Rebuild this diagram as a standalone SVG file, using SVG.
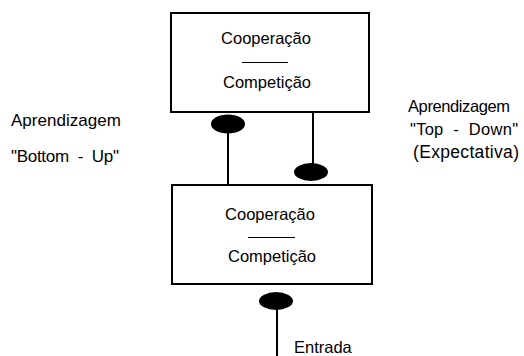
<svg xmlns="http://www.w3.org/2000/svg" width="524" height="356" viewBox="0 0 524 356">
  <style>
    text { font-family: "Liberation Sans", Arial, sans-serif; font-size: 16.5px; fill: #000; }
    .box { fill: #fff; stroke: #000; stroke-width: 2; }
    .rule { stroke: #000; stroke-width: 1; }
    .wire { stroke: #000; stroke-width: 2; fill: none; }
    .dot { fill: #000; }
    .mid { text-anchor: middle; }
    .left { font-size: 17px; }
    .wide { font-size: 17.5px; }
  </style>
  <rect width="524" height="356" fill="#fff"/>

  <g id="connectors">
    <line class="wire" x1="228" y1="128" x2="228" y2="185"/>
    <ellipse class="dot" cx="228" cy="124" rx="17" ry="9.5"/>
    <line class="wire" x1="313" y1="112" x2="313" y2="168"/>
    <ellipse class="dot" cx="311" cy="172" rx="17" ry="9"/>
    <line class="wire" x1="277" y1="301" x2="277" y2="356"/>
    <ellipse class="dot" cx="276" cy="301" rx="17" ry="9"/>
  </g>

  <g id="top-layer">
    <rect class="box" x="171" y="13" width="198" height="99"/>
    <text class="mid" x="266" y="44">Cooperação</text>
    <line class="rule" x1="242" y1="62.5" x2="288" y2="62.5"/>
    <text class="mid" x="267" y="88">Competição</text>
  </g>

  <g id="bottom-layer">
    <rect class="box" x="172" y="185" width="200" height="99"/>
    <text class="mid" x="270" y="220">Cooperação</text>
    <line class="rule" x1="248" y1="237.5" x2="295" y2="237.5"/>
    <text class="mid" x="272" y="262">Competição</text>
  </g>

  <g id="bottom-up-label">
    <text class="left" x="11" y="126" textLength="110">Aprendizagem</text>
    <text class="left" x="11" y="162" textLength="108" xml:space="preserve">"Bottom  -  Up"</text>
  </g>

  <g id="top-down-label">
    <text x="408" y="112" textLength="102">Aprendizagem</text>
    <text x="410" y="135" textLength="108" xml:space="preserve">"Top  -  Down"</text>
    <text class="wide" x="413" y="158" textLength="106">(Expectativa)</text>
  </g>

  <g id="input-label">
    <text x="294" y="353">Entrada</text>
  </g>
</svg>
